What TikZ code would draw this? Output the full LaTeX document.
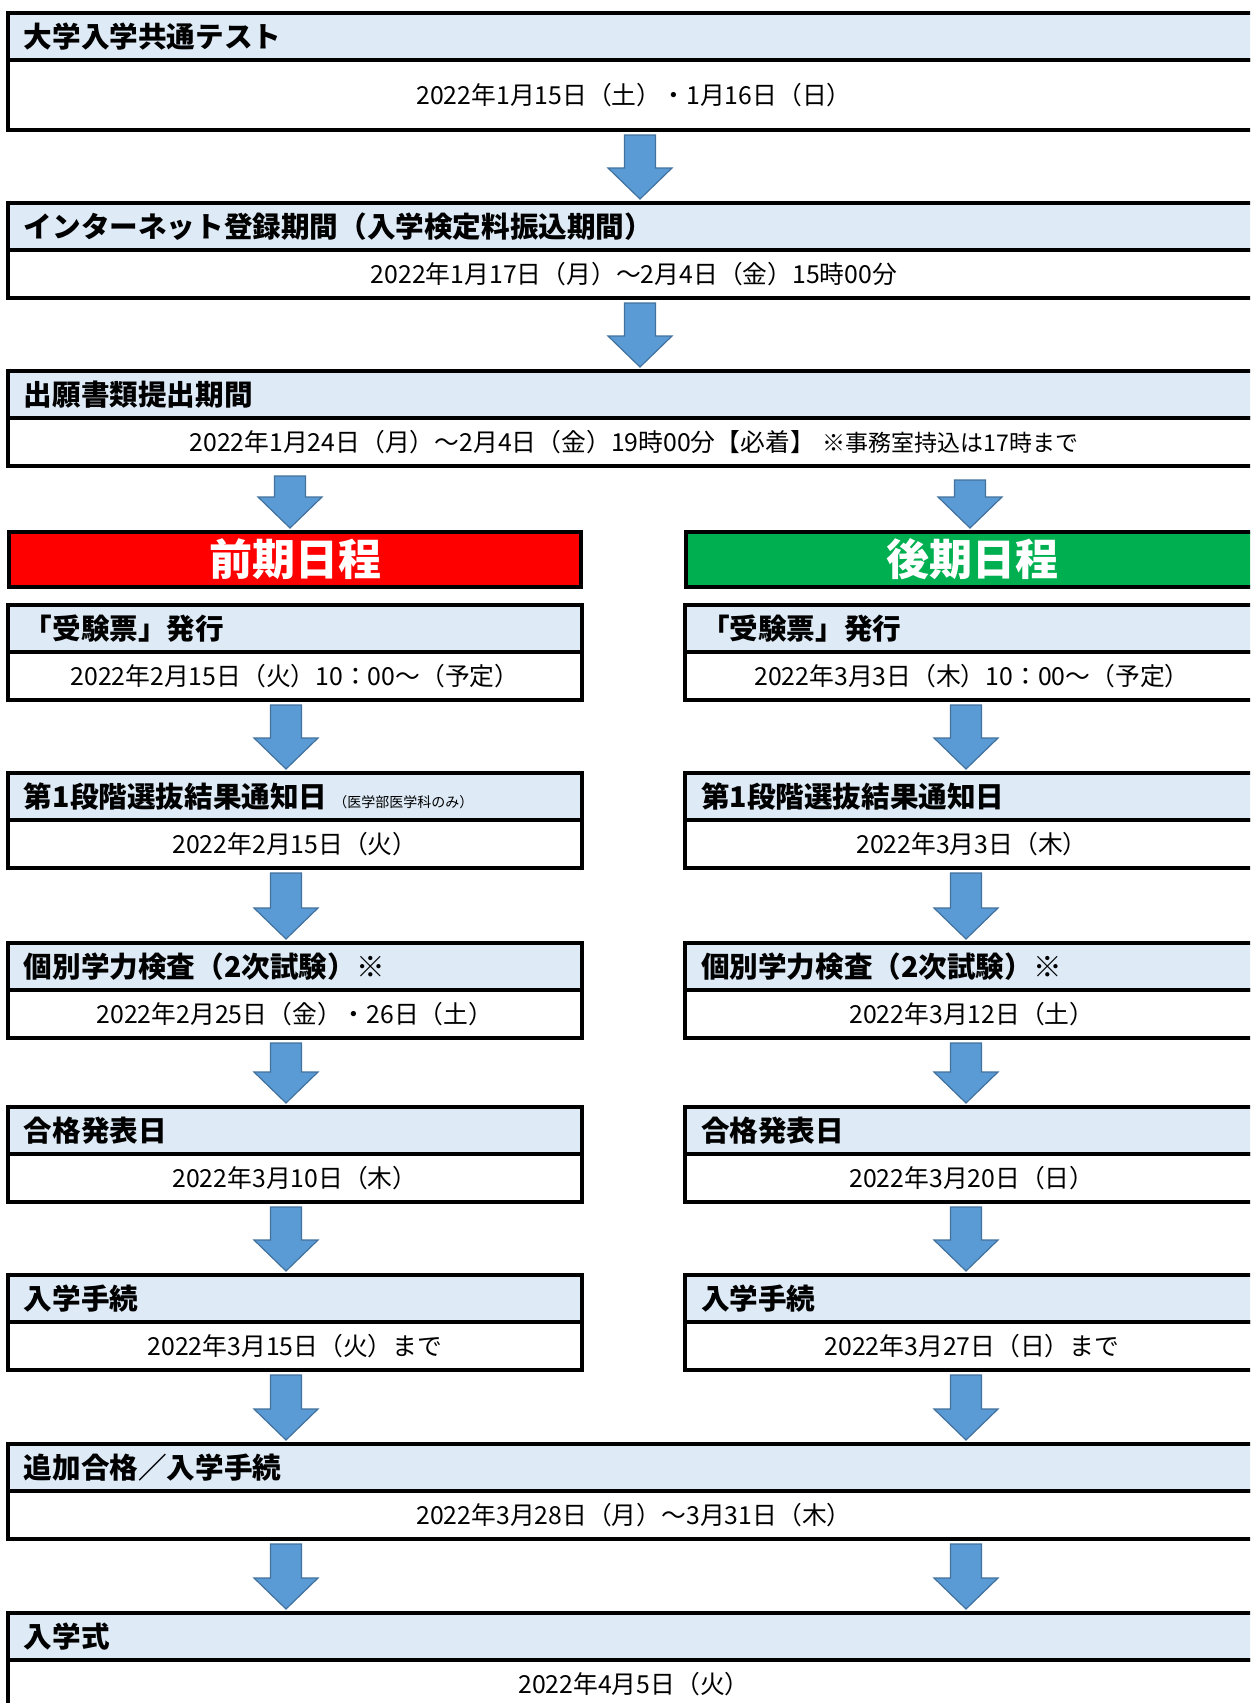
\documentclass[tikz,border=0pt]{standalone}
\usepackage{fontspec}
\setmainfont{Noto Sans CJK JP}
\usetikzlibrary{calc}

\definecolor{headblue}{HTML}{DEEBF7}
\definecolor{arrowblue}{HTML}{5B9BD5}
\definecolor{arrowedge}{HTML}{41719C}
\definecolor{zenkired}{HTML}{FF0000}
\definecolor{koukigreen}{HTML}{00B050}

% fat arrow: [gap below upper box]{x}{upper node}{lower node}
\newcommand{\flowarrow}[4][5]{%
  \draw [blockarrow] ($(#2, 0 |- #3.south) + (-15.5, #1)$) -- ++(31, 0)
    -- ($(#2, 0 |- #4.north) + (15.5, -35)$) -- ++(16.5, 0)
    -- ($(#2, 0 |- #4.north) + (0, -4)$) -- ++(-32, -31) -- ++(16.5, 0) -- cycle;
}

\begin{document}
\begin{tikzpicture}[x = 0.5pt, y = -0.5pt,
    headbox/.style = {draw, line width = 1.6pt, fill = headblue, anchor = north west,
      outer sep = 0pt, text width = #1, inner xsep = 8pt, inner ysep = 0pt,
      minimum height = 23.5pt, align = left, font = \fontsize{14.3}{16}\selectfont\bfseries},
    bodybox/.style = {draw, line width = 1.6pt, fill = white, anchor = north west,
      outer sep = 0pt, minimum width = #1, inner sep = 0pt, minimum height = 24pt,
      font = \fontsize{12.4}{14}\selectfont},
    termbox/.style = {draw, line width = 1.6pt, fill = #1, anchor = north west,
      outer sep = 0pt, minimum width = 286pt, minimum height = 27.5pt, text = white,
      font = \fontsize{21.5}{24}\selectfont\bfseries},
    blockarrow/.style = {fill = arrowblue, draw = arrowedge, line width = 0.6pt}]
  \useasboundingbox (0, 0) rectangle (1250, 1703);
  \clip (0, 0) rectangle (1250, 1703);

  % common part
  \node [headbox = 610pt] (test) at (8, 13) {大学入学共通テスト};
  \node [bodybox = 626pt, minimum height = 35pt] (testdate) at (test.south west) {2022年1月15日（土）・1月16日（日）};
  \node [headbox = 610pt] (net) at (8, 203) {インターネット登録期間（入学検定料振込期間）};
  \node [bodybox = 626pt] (netdate) at (net.south west) {2022年1月17日（月）～2月4日（金）15時00分};
  \node [headbox = 610pt] (apply) at (8, 371) {出願書類提出期間};
  \node [bodybox = 626pt] (applydate) at (apply.south west) {2022年1月24日（月）～2月4日（金）19時00分【必着】\hspace{4pt}{\fontsize{11.5}{13}\selectfont ※事務室持込は17時まで}};

  \node [termbox = zenkired] (zenki) at (9, 532) {前期日程};
  \node [termbox = koukigreen] (kouki) at (686, 532) {後期日程};

  % first-stage schedule
  \node [headbox = 271pt] (zticket) at (8, 605) {「受験票」発行};
  \node [bodybox = 287pt] (zticketdate) at (zticket.south west) {2022年2月15日（火）10：00～（予定）};
  \node [headbox = 271pt] (zfirst) at (8, 773) {第1段階選抜結果通知日\hspace{3pt}{\fontsize{7}{8}\selectfont\mdseries （医学部医学科のみ）}};
  \node [bodybox = 287pt] (zfirstdate) at (zfirst.south west) {2022年2月15日（火）};
  \node [headbox = 271pt] (zexam) at (8, 943) {個別学力検査（2次試験）※};
  \node [bodybox = 287pt] (zexamdate) at (zexam.south west) {2022年2月25日（金）・26日（土）};
  \node [headbox = 271pt] (zpass) at (8, 1107) {合格発表日};
  \node [bodybox = 287pt] (zpassdate) at (zpass.south west) {2022年3月10日（木）};
  \node [headbox = 271pt] (zproc) at (8, 1275) {入学手続};
  \node [bodybox = 287pt] (zprocdate) at (zproc.south west) {2022年3月15日（火）まで};

  % second-stage schedule
  \node [headbox = 271pt] (kticket) at (685, 605) {「受験票」発行};
  \node [bodybox = 287pt] (kticketdate) at (kticket.south west) {2022年3月3日（木）10：00～（予定）};
  \node [headbox = 271pt] (kfirst) at (685, 773) {第1段階選抜結果通知日};
  \node [bodybox = 287pt] (kfirstdate) at (kfirst.south west) {2022年3月3日（木）};
  \node [headbox = 271pt] (kexam) at (685, 943) {個別学力検査（2次試験）※};
  \node [bodybox = 287pt] (kexamdate) at (kexam.south west) {2022年3月12日（土）};
  \node [headbox = 271pt] (kpass) at (685, 1107) {合格発表日};
  \node [bodybox = 287pt] (kpassdate) at (kpass.south west) {2022年3月20日（日）};
  \node [headbox = 271pt] (kproc) at (685, 1275) {入学手続};
  \node [bodybox = 287pt] (kprocdate) at (kproc.south west) {2022年3月27日（日）まで};

  % after both
  \node [headbox = 610pt] (extra) at (8, 1444) {追加合格／入学手続};
  \node [bodybox = 626pt] (extradate) at (extra.south west) {2022年3月28日（月）～3月31日（木）};
  \node [headbox = 610pt] (ceremony) at (8, 1613) {入学式};
  \node [bodybox = 626pt] (ceremonydate) at (ceremony.south west) {2022年4月5日（火）};

  % arrows
  \flowarrow{640}{testdate}{net}
  \flowarrow{640}{netdate}{apply}
  \flowarrow[10]{290}{applydate}{zenki}
  \flowarrow[14]{970}{applydate}{kouki}
  \flowarrow{286}{zticketdate}{zfirst}
  \flowarrow{286}{zfirstdate}{zexam}
  \flowarrow{286}{zexamdate}{zpass}
  \flowarrow{286}{zpassdate}{zproc}
  \flowarrow{286}{zprocdate}{extra}
  \flowarrow{966}{kticketdate}{kfirst}
  \flowarrow{966}{kfirstdate}{kexam}
  \flowarrow{966}{kexamdate}{kpass}
  \flowarrow{966}{kpassdate}{kproc}
  \flowarrow{966}{kprocdate}{extra}
  \flowarrow{286}{extradate}{ceremony}
  \flowarrow{966}{extradate}{ceremony}
\end{tikzpicture}
\end{document}
